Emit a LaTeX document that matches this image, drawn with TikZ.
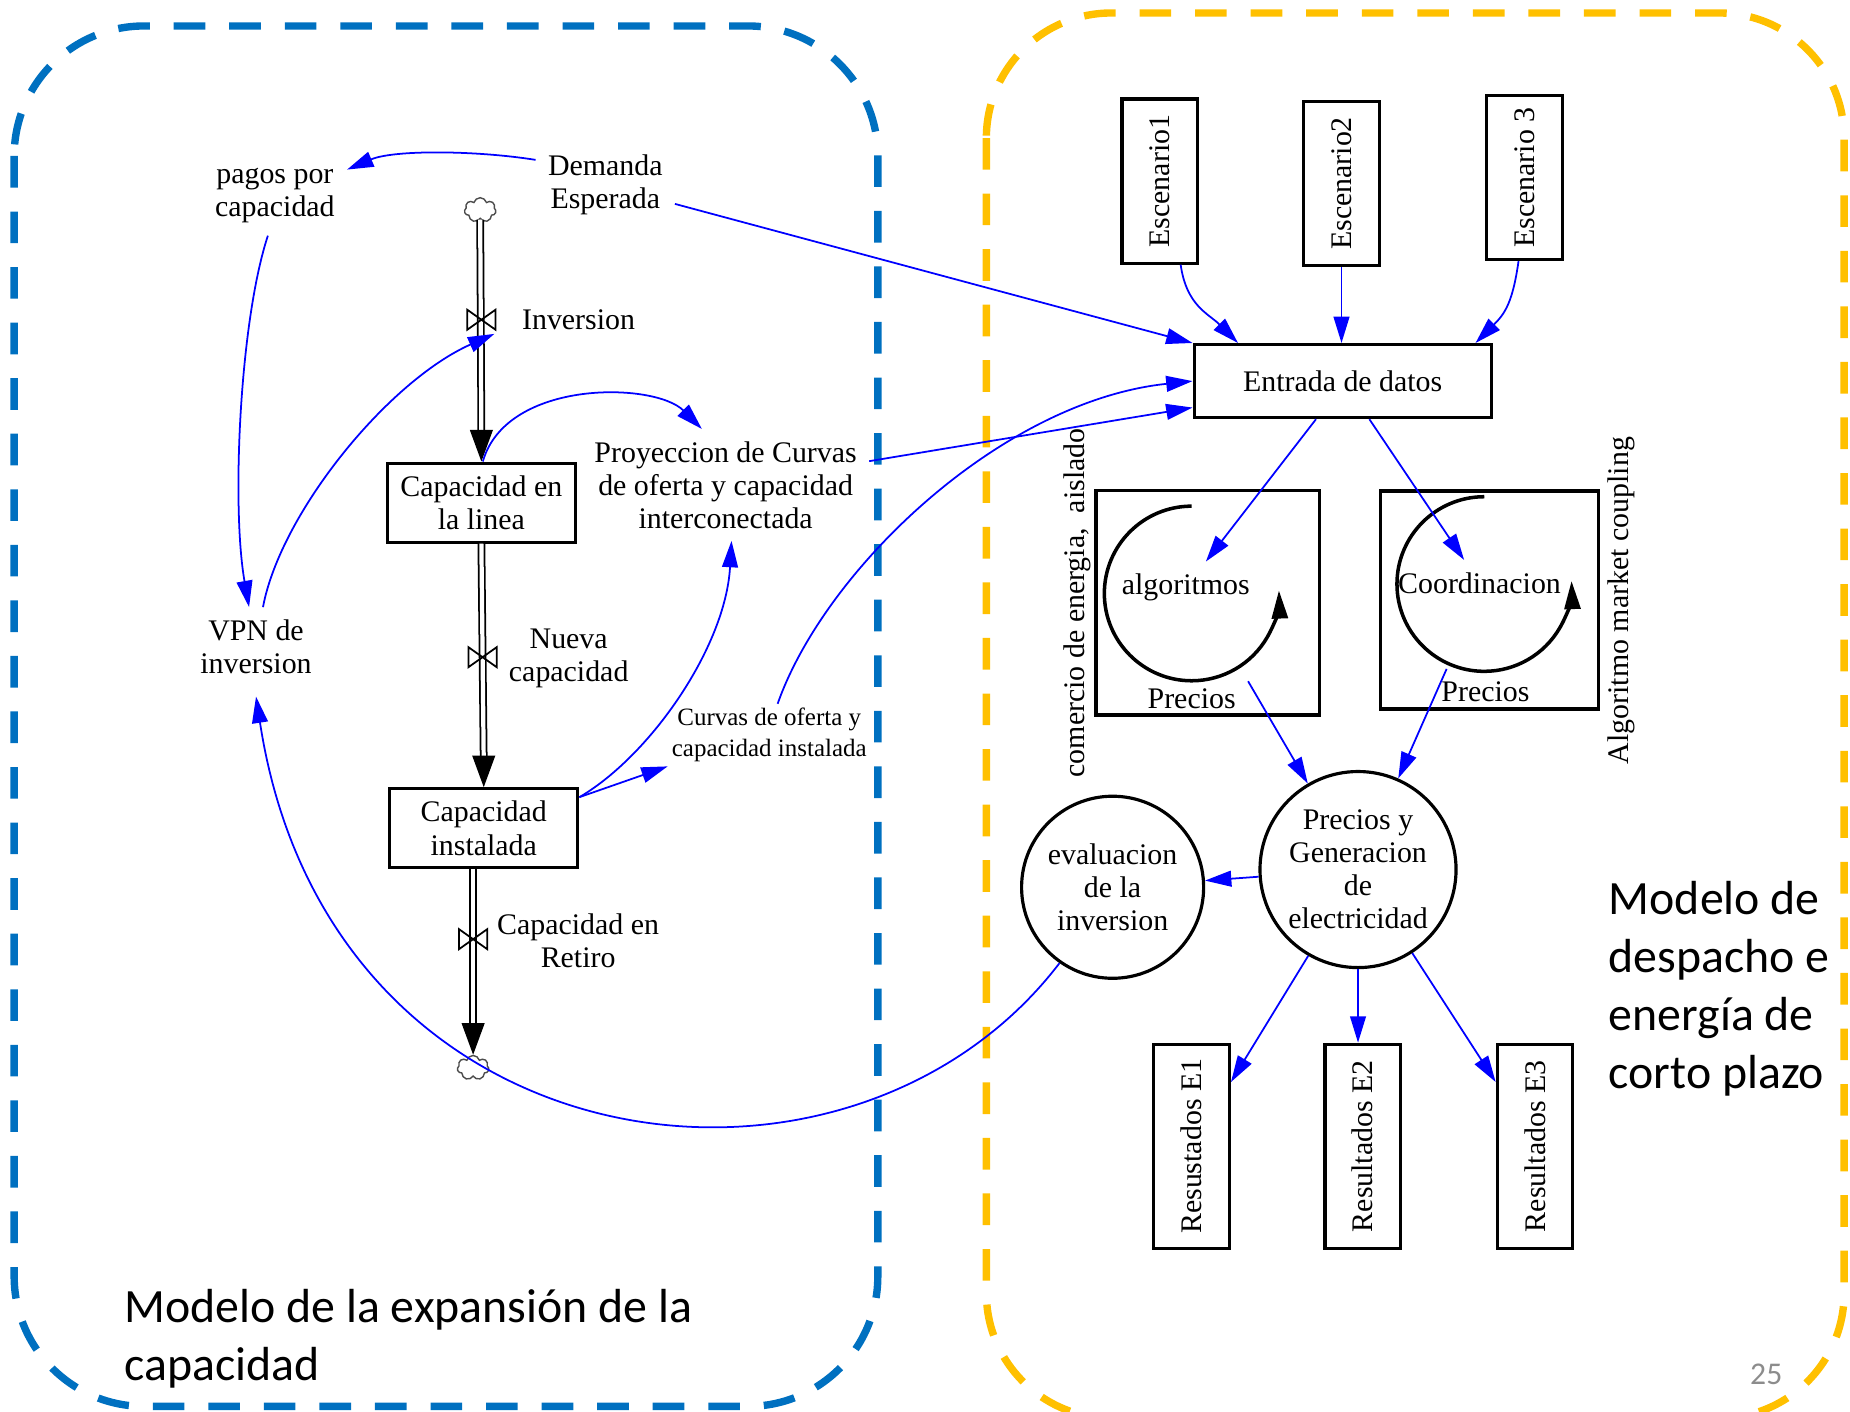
\documentclass[tikz,border=0pt]{standalone}
\usepackage{fontspec}
\setmainfont{Liberation Serif}
\newfontfamily\calibfont{Carlito}
\usepackage{graphicx}
\usetikzlibrary{calc}
\usetikzlibrary{arrows.meta}
\usetikzlibrary{shapes.symbols}
\definecolor{boxblue}{RGB}{0,112,192}
\definecolor{boxgold}{RGB}{255,192,0}

\begin{document}
\begin{tikzpicture}[x=0.0118cm, y=-0.0118cm]
    \tikzstyle{txt} = [font=\fontsize{8.5}{9.4}\selectfont, align=center]
    \tikzstyle{smalltxt} = [font=\fontsize{7.1}{8.9}\selectfont, align=center, inner sep=1pt]
    \tikzstyle{bigtxt} = [font=\calibfont\fontsize{13.6}{16.5}\selectfont, align=left, inner sep=0pt, anchor=west]
    \tikzstyle{stock} = [txt, draw, line width=0.9pt, minimum width=1.88cm, minimum height=0.79cm]
    \tikzstyle{tall} = [txt, draw, line width=0.9pt, minimum width=0.755cm]
    \tikzstyle{link} = [blue, line width=0.5pt, -{Triangle[length=7.5pt, width=4.5pt]}]
    \tikzstyle{pipe} = [double, double distance=1.2pt, line width=0.5pt]
    \tikzstyle{pipetip} = [-{Triangle[length=9pt, width=6.5pt]}]
    \tikzstyle{valve} = [line width=0.5pt]
    \tikzstyle{cloudy} = [cloud, cloud puffs=7, draw=black!70, line width=0.4pt, minimum width=9pt, minimum height=7pt, inner sep=0pt]
    \tikzstyle{loopline} = [line width=1pt, -{Triangle[length=8pt, width=4.5pt]}]
    \tikzstyle{frame} = [line width=2.1pt, dash pattern=on 9pt off 6.8pt]

    \useasboundingbox (0,0) rectangle (1568,1196);
    \begin{scope}
        \clip (0,0) rectangle (1568,1196);
        \draw[frame, boxblue, rounded corners=1.3cm] (12,22) rectangle (744,1192);
        \draw[frame, boxgold, rounded corners=1.25cm] (836,11) rectangle (1563,1202);
    \end{scope}

    \node[txt] (pag) at (233,166) {pagos por\\capacidad};
    \node[txt] (dem) at (513,157) {Demanda\\Esperada};
    \node[txt] (vpn) at (217,548) {VPN de\\inversion};
    \node[stock] (lin) at (408,426) {Capacidad en\\la linea};
    \node[stock] (ins) at (410,702) {Capacidad\\instalada};
    \node[txt] (proy) at (615,411) {Proyeccion de Curvas\\de oferta y capacidad\\interconectada};
    \node[smalltxt] (curv) at (652,623) {Curvas de oferta y\\capacidad instalada};
    \node[cloudy] (src) at (407,178) {};
    \node[cloudy] (snk) at (401,905) {};
    \coordinate (vinv) at (408,271);
    \coordinate (vnue) at (409,557);
    \coordinate (vret) at (401,796);
    \node[txt, anchor=west] (linv) at (432,271) {Inversion};
    \node[txt] (lnue) at (482,558) {Nueva\\capacidad};
    \node[txt] (lret) at (490,797) {Capacidad en\\Retiro};

    \draw[pipe] (src.south) -- ([yshift=7pt]lin.north);
    \draw[pipetip] ([yshift=9pt]lin.north) -- (lin.north);
    \draw[pipe] (lin.south) -- ([yshift=7pt]ins.north);
    \draw[pipetip] ([yshift=9pt]ins.north) -- (ins.north);
    \draw[pipe] (ins.south -| snk) -- ([yshift=7pt]snk.north);
    \draw[pipetip] ([yshift=9pt]snk.north) -- (snk.north);
    \draw[valve] (vinv) +(-12,-8.5) -- +(12,8.5) -- +(12,-8.5) -- +(-12,8.5) -- cycle;
    \draw[valve] (vnue) +(-12,-8.5) -- +(12,8.5) -- +(12,-8.5) -- +(-12,8.5) -- cycle;
    \draw[valve] (vret) +(-12,-8.5) -- +(12,8.5) -- +(12,-8.5) -- +(-12,8.5) -- cycle;

    \node[tall, minimum height=1.64cm] (es1) at (983,153.5) {\rotatebox{90}{Escenario1}};
    \node[tall, minimum height=1.64cm] (es2) at (1137,155.5) {\rotatebox{90}{Escenario2}};
    \node[tall, minimum height=1.64cm] (es3) at (1292,150.5) {\rotatebox{90}{Escenario 3}};
    \node[txt, draw, line width=0.9pt, minimum width=2.97cm, minimum height=0.73cm] (ent) at (1138,323) {Entrada de datos};
    \node[draw, line width=0.9pt, minimum width=2.23cm, minimum height=2.24cm] (boxL) at (1023.5,511) {};
    \node[draw, line width=0.9pt, minimum width=2.18cm, minimum height=2.18cm] (boxR) at (1262.5,508.5) {};
    \coordinate (loopL) at (1010,503);
    \coordinate (loopR) at (1258,495);
    \draw[loopline] (loopL) ++(0,-74) arc[start angle=-90, end angle=-362, radius=74];
    \draw[loopline] (loopR) ++(0,-74) arc[start angle=-90, end angle=-362, radius=74];
    \node[txt] (alg) at (1005,498) {algoritmos};
    \node[txt] (coo) at (1254,494) {Coordinacion};
    \node[txt] (precL) at (1010,592) {Precios};
    \node[txt] (precR) at (1259,586) {Precios};
    \node[txt, rotate=90] (aisl) at (913,511) {comercio de energia,~ aislado};
    \node[txt, rotate=90] (mcoup) at (1374,509) {Algoritmo market coupling};
    \node[txt, draw, circle, line width=0.9pt, minimum size=1.96cm, inner sep=0pt] (pg) at (1151,737) {Precios y\\Generacion\\de\\electricidad};
    \node[txt, draw, circle, line width=0.9pt, minimum size=1.82cm, inner sep=0pt] (ev) at (943,752) {evaluacion\\de la\\inversion};
    \node[tall, minimum height=2.04cm] (re1) at (1010,971.5) {\rotatebox{90}{Resustados E1}};
    \node[tall, minimum height=2.04cm] (re2) at (1155,971.5) {\rotatebox{90}{Resultados E2}};
    \node[tall, minimum height=2.04cm] (re3) at (1301,971.5) {\rotatebox{90}{Resultados E3}};

    \node[bigtxt] (mdesp) at (1363,838) {Modelo de\\despacho e\\energía de\\corto plazo};
    \node[bigtxt] (mexp) at (105,1134.5) {Modelo de la expansión de la\\capacidad};
    \node[font=\calibfont\fontsize{9}{11}\selectfont, text=black!45] (pnum) at (1497,1165) {25};

    \draw[link] (dem.160) .. controls +(-50,-8) and +(40,-17) .. (pag.20);
    \draw[link] (dem.-15) -- (ent.north west);
    \draw[link] (pag.-100) .. controls +(-24,73) and +(-15,-85) .. (vpn.100);
    \draw[link] (vpn.80) .. controls +(15,-80) and +(-90,40) .. ($(vinv)+(11,12)$);
    \draw[link] (lin.88) .. controls +(20,-70) and +(-40,-40) .. (proy.113);
    \draw[link] (ins.18) .. controls +(60,-35) and +(-5,90) .. (proy.-84);
    \draw[link] (ins.18) -- (curv.south west);
    \draw[link] (curv.75) .. controls +(40,-114) and +(-162,17) .. (ent.west);
    \draw[link] (proy) -- (ent.190);
    \draw[link] (ev.235) .. controls +(-178,233) and +(62,405) .. ([yshift=-3pt]vpn.south);
    \draw[link] (es1.-76) .. controls +(5,35) and +(-25,-25) .. (ent.160);
    \draw[link] (es2) -- (es2 |- ent.north);
    \draw[link] (es3.-94) .. controls +(-5,35) and +(25,-25) .. (ent.16);
    \draw[link] (ent.235) -- (alg);
    \draw[link] (ent.-55) -- (coo);
    \draw[link] (precL.17) -- (pg);
    \draw[link] ([xshift=5pt]precR.north west) -- (pg);
    \draw[link] (pg) -- (ev);
    \draw[link] (pg.240) -- ($(re1.north east)!0.19!(re1.south east)$);
    \draw[link] (pg.south) -- (pg.south |- re2.north);
    \draw[link] (pg.303) -- ($(re3.north west)!0.19!(re3.south west)$);
\end{tikzpicture}
\end{document}
